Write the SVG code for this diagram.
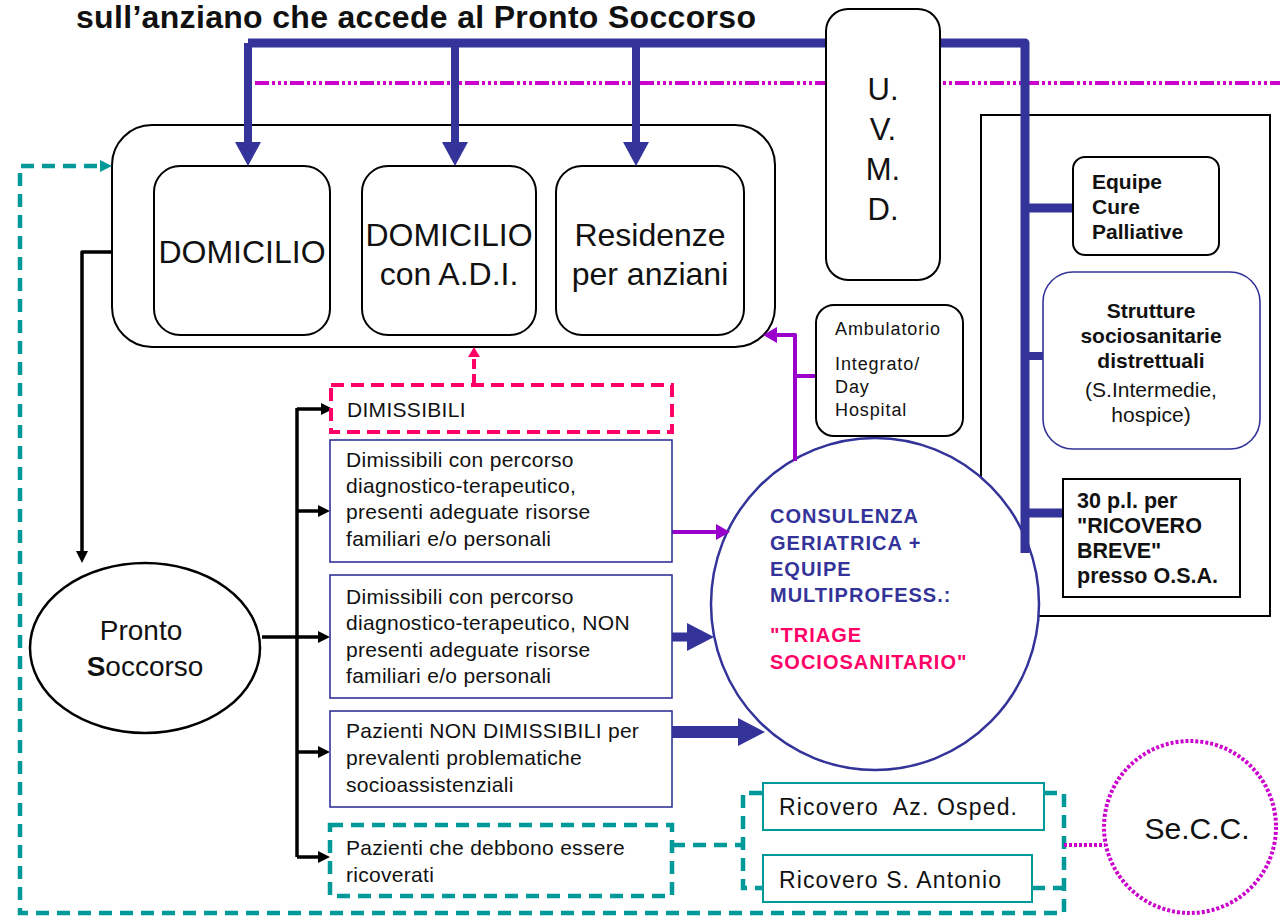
<svg xmlns="http://www.w3.org/2000/svg" width="1280" height="920" viewBox="0 0 1280 920">
<style>
.t{font-family:"Liberation Sans",Arial,Helvetica,sans-serif;fill:#111}
.b{font-weight:bold}
.bx{font-size:21px;letter-spacing:0.3px}
.blk{fill:#fff;stroke:#000;stroke-width:2}
.blu{fill:#fff;stroke:#333399;stroke-width:1.6}
.teal{fill:none;stroke:#009999;stroke-width:4.5;stroke-dasharray:13 8}
.ln{fill:none;stroke-linejoin:round}
</style>
<defs>
<marker id="hBlue" markerUnits="userSpaceOnUse" markerWidth="24" markerHeight="26" refX="0" refY="13" orient="auto"><path d="M0,0 L24,13 L0,26 Z" fill="#333399"/></marker>
<marker id="hBlueBig" markerUnits="userSpaceOnUse" markerWidth="27" markerHeight="28" refX="0" refY="14" orient="auto"><path d="M0,0 L27,14 L0,28 Z" fill="#333399"/></marker>
<marker id="hBlack" markerUnits="userSpaceOnUse" markerWidth="12" markerHeight="12" refX="0" refY="6" orient="auto"><path d="M0,0 L12,6 L0,12 Z" fill="#000"/></marker>
<marker id="hPurple" markerUnits="userSpaceOnUse" markerWidth="14" markerHeight="16" refX="0" refY="8" orient="auto"><path d="M0,0 L14,8 L0,16 Z" fill="#9900cc"/></marker>
<marker id="hPink" markerUnits="userSpaceOnUse" markerWidth="10" markerHeight="12" refX="0" refY="6" orient="auto"><path d="M0,0 L10,6 L0,12 Z" fill="#ff0066"/></marker>
<marker id="hTeal" markerUnits="userSpaceOnUse" markerWidth="12" markerHeight="12" refX="0" refY="6" orient="auto"><path d="M0,0 L12,6 L0,12 Z" fill="#009999"/></marker>
</defs>
<rect width="1280" height="920" fill="#fff"/>

<text class="t b" x="76" y="28" font-size="32" textLength="680">sull’anziano che accede al Pronto Soccorso</text>

<g id="area-distretto">
<rect class="blk" x="981" y="115" width="289" height="501" stroke-width="1.6"/>
</g>
<g id="consulenza">
<ellipse cx="875" cy="604" rx="164" ry="166" fill="#fff" stroke="#333399" stroke-width="2.5"/>
<g class="t b" font-size="20" letter-spacing="1" style="fill:#333399">
<text x="770" y="523">CONSULENZA</text>
<text x="770" y="550">GERIATRICA +</text>
<text x="770" y="576">EQUIPE</text>
<text x="770" y="602">MULTIPROFESS.:</text>
</g>
<g class="t b" font-size="20" letter-spacing="1" style="fill:#ff0066">
<text x="770" y="642">"TRIAGE</text>
<text x="770" y="669">SOCIOSANITARIO"</text>
</g>
</g>
<g id="contenitore">
<rect class="blk" x="112" y="125" width="663" height="222" rx="40"/>
</g>
<g id="domicilio">
<rect class="blk" x="154" y="166" width="176" height="169" rx="26"/>
<text class="t" x="242" y="263" font-size="32" text-anchor="middle">DOMICILIO</text>
</g>
<g id="domicilio-adi">
<rect class="blk" x="362" y="166" width="174" height="169" rx="26"/>
<text class="t" x="449" y="246" font-size="32" text-anchor="middle">DOMICILIO</text>
<text class="t" x="449" y="285" font-size="32" text-anchor="middle">con A.D.I.</text>
</g>
<g id="residenze">
<rect class="blk" x="556" y="166" width="188" height="169" rx="26"/>
<text class="t" x="650" y="246" font-size="32" text-anchor="middle">Residenze</text>
<text class="t" x="650" y="285" font-size="32" text-anchor="middle">per anziani</text>
</g>

<g id="connectors">
<line x1="255" y1="83" x2="1280" y2="83" stroke="#cc00cc" stroke-width="4" stroke-dasharray="14 3 3 3 3 3 3 3"/>
<path class="ln" d="M248,43 H1025 V553" stroke="#333399" stroke-width="9"/>
<path class="ln" d="M248,43 V142" stroke="#333399" stroke-width="8" marker-end="url(#hBlue)"/>
<path class="ln" d="M455,43 V142" stroke="#333399" stroke-width="8" marker-end="url(#hBlue)"/>
<path class="ln" d="M636,43 V142" stroke="#333399" stroke-width="8" marker-end="url(#hBlue)"/>
<path class="ln" d="M1025,208 H1075" stroke="#333399" stroke-width="9"/>
<path class="ln" d="M1025,356 H1044" stroke="#333399" stroke-width="8"/>
<path class="ln" d="M1025,513 H1064" stroke="#333399" stroke-width="9"/>
<path class="ln" d="M672,637 H687" stroke="#333399" stroke-width="9" marker-end="url(#hBlueBig)"/>
<path class="ln" d="M672,732 H738" stroke="#333399" stroke-width="12" marker-end="url(#hBlueBig)"/>

<path class="ln" d="M672,532 H716" stroke="#9900cc" stroke-width="4" marker-end="url(#hPurple)"/>
<path class="ln" d="M795,461 V335 H777" stroke="#9900cc" stroke-width="4" marker-end="url(#hPurple)"/>
<path class="ln" d="M816,376 H795" stroke="#9900cc" stroke-width="4"/>

<path class="ln" d="M474,384 V357" stroke="#ff0066" stroke-width="4" stroke-dasharray="10 5" marker-end="url(#hPink)"/>

<path class="ln" d="M112,252 H82 V551" stroke="#000" stroke-width="3.5" marker-end="url(#hBlack)"/>
<path class="ln" d="M262,637 H297" stroke="#000" stroke-width="3.5"/>
<path class="ln" d="M297,408 V857" stroke="#000" stroke-width="3.5"/>
<path class="ln" d="M297,409 H321" stroke="#000" stroke-width="3.5" marker-end="url(#hBlack)"/>
<path class="ln" d="M297,511 H318" stroke="#000" stroke-width="3.5" marker-end="url(#hBlack)"/>
<path class="ln" d="M297,637 H318" stroke="#000" stroke-width="3.5" marker-end="url(#hBlack)"/>
<path class="ln" d="M297,752 H318" stroke="#000" stroke-width="3.5" marker-end="url(#hBlack)"/>
<path class="ln" d="M297,857 H318" stroke="#000" stroke-width="3.5" marker-end="url(#hBlack)"/>

<path class="teal" d="M1044,793 H1064 V913 H20 V166 H100" marker-end="url(#hTeal)"/>
<path class="teal" d="M762,793 H743 V888 H762"/>
<path class="teal" d="M1032,888 H1064"/>
<path class="teal" d="M672,845 H743"/>
<path class="ln" d="M1064,845 H1105" stroke="#cc00cc" stroke-width="4" stroke-dasharray="3 2"/>
</g>

<g id="uvmd">
<rect class="blk" x="826" y="9" width="114" height="271" rx="22"/>
<g class="t" font-size="31" text-anchor="middle">
<text x="883" y="100">U.</text>
<text x="883" y="140">V.</text>
<text x="883" y="180">M.</text>
<text x="883" y="220">D.</text>
</g>
</g>
<g id="ambulatorio">
<rect class="blk" x="816" y="305" width="147" height="131" rx="18"/>
<g class="t" font-size="18" letter-spacing="0.9">
<text x="835" y="335">Ambulatorio</text>
<text x="835" y="370">Integrato/</text>
<text x="835" y="393">Day</text>
<text x="835" y="416">Hospital</text>
</g>
</g>
<g id="equipe-cure-palliative">
<rect class="blk" x="1073" y="157" width="146" height="98" rx="12"/>
<g class="t b" font-size="21">
<text x="1092" y="189">Equipe</text>
<text x="1092" y="214">Cure</text>
<text x="1092" y="239">Palliative</text>
</g>
</g>
<g id="strutture">
<rect class="blu" x="1043" y="272" width="217" height="177" rx="30"/>
<g class="t" font-size="21" text-anchor="middle">
<text class="b" x="1151" y="318">Strutture</text>
<text class="b" x="1151" y="343">sociosanitarie</text>
<text class="b" x="1151" y="368">distrettuali</text>
<text x="1151" y="397">(S.Intermedie,</text>
<text x="1151" y="422">hospice)</text>
</g>
</g>
<g id="ricovero-breve">
<rect class="blk" x="1063" y="479" width="177" height="118"/>
<g class="t b" font-size="21.5">
<text x="1077" y="508">30 p.l. per</text>
<text x="1077" y="533">"RICOVERO</text>
<text x="1077" y="558">BREVE"</text>
<text x="1077" y="583">presso O.S.A.</text>
</g>
</g>
<g id="pronto-soccorso">
<ellipse cx="145" cy="648" rx="115" ry="85" fill="#fff" stroke="#000" stroke-width="2.5"/>
<text class="t" x="141" y="640" font-size="28" text-anchor="middle">Pronto</text>
<text class="t" x="145" y="676" font-size="28" text-anchor="middle"><tspan font-weight="bold">S</tspan>occorso</text>
</g>
<g id="dimissibili">
<rect x="331" y="385" width="341" height="47" fill="#fff" stroke="#ff0066" stroke-width="4" stroke-dasharray="13 7"/>
<text class="t bx" x="347" y="417">DIMISSIBILI</text>
</g>
<g id="dimissibili-risorse">
<rect class="blu" x="330" y="440" width="342" height="122"/>
<g class="t bx">
<text x="346" y="467">Dimissibili con percorso</text>
<text x="346" y="493">diagnostico-terapeutico,</text>
<text x="346" y="519">presenti adeguate risorse</text>
<text x="346" y="546">familiari e/o personali</text>
</g>
</g>
<g id="dimissibili-non-risorse">
<rect class="blu" x="330" y="575" width="342" height="123"/>
<g class="t bx">
<text x="346" y="604">Dimissibili con percorso</text>
<text x="346" y="630">diagnostico-terapeutico, NON</text>
<text x="346" y="657">presenti adeguate risorse</text>
<text x="346" y="683">familiari e/o personali</text>
</g>
</g>
<g id="non-dimissibili">
<rect class="blu" x="330" y="711" width="342" height="96"/>
<g class="t bx">
<text x="346" y="738">Pazienti NON DIMISSIBILI per</text>
<text x="346" y="765">prevalenti problematiche</text>
<text x="346" y="792">socioassistenziali</text>
</g>
</g>
<g id="da-ricoverare">
<rect x="330" y="825" width="342" height="71" fill="#fff" stroke="#009999" stroke-width="4.5" stroke-dasharray="13 8"/>
<g class="t bx">
<text x="346" y="855">Pazienti che debbono essere</text>
<text x="346" y="882">ricoverati</text>
</g>
</g>
<g id="ricovero-az-osped">
<rect x="763" y="783" width="281" height="47" fill="#fff" stroke="#009999" stroke-width="2"/>
<text class="t" x="779" y="815" font-size="23" textLength="238">Ricovero&#160; Az. Osped.</text>
</g>
<g id="ricovero-s-antonio">
<rect x="763" y="855" width="269" height="47" fill="#fff" stroke="#009999" stroke-width="2"/>
<text class="t" x="779" y="888" font-size="23" textLength="222">Ricovero S. Antonio</text>
</g>
<g id="secc">
<circle cx="1190" cy="827" r="86" fill="#fff" stroke="#cc00cc" stroke-width="4" stroke-dasharray="3 2"/>
<text class="t" x="1197" y="839" font-size="30" text-anchor="middle">Se.C.C.</text>
</g>
</svg>
